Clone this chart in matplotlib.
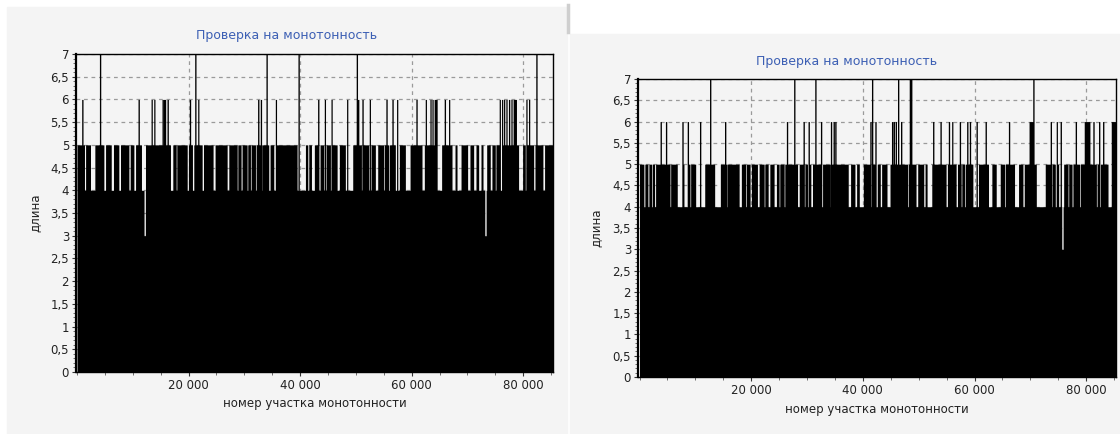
import numpy as np
import matplotlib
matplotlib.use("Agg")
import matplotlib.pyplot as plt
from matplotlib.patches import Rectangle
from matplotlib.lines import Line2D
from matplotlib.ticker import FuncFormatter, MultipleLocator

# ---------------- data ----------------
title = "Проверка на монотонность"
xlabel = "номер участка монотонности"
ylabel = "длина"
x_major = [20000, 40000, 60000, 80000]

base_len = 4  # most sections have length 4

# left chart: intervals where the length is 5
left_seg5 = [(0, 1250), (1613, 2330), (3285, 4719), (5197, 6033), (6630, 7407),
             (7885, 9199), (9617, 10095), (10573, 11468), (12364, 16665),
             (17262, 17680), (17979, 19652), (20070, 20608), (21024, 22339),
             (22757, 24310), (24848, 26819), (27297, 28014), (28135, 28613),
             (28911, 29329), (29688, 30405), (30703, 31002), (31300, 31898),
             (32196, 32794), (33212, 34287), (34705, 35183), (35660, 39364),
             (41036, 41275), (41634, 41932), (42649, 43067), (43665, 44142),
             (44740, 45337), (45636, 46532), (47129, 48025), (49518, 50115),
             (50534, 50892), (51310, 52206), (52803, 53401), (53998, 54894),
             (55192, 55790), (56089, 56985), (57882, 58778), (59793, 61764),
             (62362, 64452), (65468, 67140), (67857, 68036), (68932, 69947),
             (70545, 71023), (71620, 71918), (72516, 72695), (73531, 74009),
             (74487, 74905), (75204, 75801), (76399, 79086), (79982, 80281),
             (80580, 81774), (82192, 83446), (83924, 85358)]
left_len6 = [956, 11050, 13380, 13860, 15350, 15600, 15770, 16250, 20250, 21740,
             32495, 32973, 35660, 43246, 44440, 45640, 48440, 50410, 51190,
             52500, 55490, 56570, 57400, 60870, 62540, 63380, 63740, 64150,
             64300, 64450, 65950, 66720, 75800, 76220, 76580, 77000, 77470,
             77900, 78300, 78500, 78670, 80580, 81060]
left_len7 = [4122, 21204, 33988, 39722, 50175, 82370]
left_len3 = [12126, 73230]

# right chart
right_seg5 = [(0, 688), (1047, 1406), (1764, 2063), (2362, 2602), (2960, 3678),
              (3977, 5352), (5651, 6070), (6249, 6668), (7685, 7864), (8641, 8940),
              (9239, 9957), (11751, 13366), (14562, 15518), (15758, 17731),
              (18329, 18927), (19226, 19704), (20123, 21020), (21498, 22216),
              (22515, 22934), (23412, 24010), (24608, 24907), (25206, 25804),
              (26103, 27598), (27897, 28196), (28674, 29392), (29691, 29990),
              (30289, 30588), (31066, 32382), (32860, 34056), (34355, 37286),
              (37884, 38482), (38960, 39259), (40156, 41173), (41651, 42249),
              (42668, 43026), (43445, 44222), (44940, 47930), (48229, 49425),
              (49903, 50800), (51219, 51398), (52415, 54807), (55226, 56601),
              (57020, 57498), (57797, 58096), (58395, 58993), (59292, 59591),
              (60787, 62402), (63179, 63777), (64674, 65272), (65571, 65990),
              (66348, 67066), (67963, 68561), (68980, 70953), (72747, 73644),
              (73943, 74362), (74720, 74960), (76036, 76634), (76933, 77352),
              (77710, 77950), (78308, 78727), (79026, 81717), (82016, 82315),
              (82614, 83810), (84707, 85305)]
right_len6 = [3798, 4754, 7685, 8641, 10854, 15339, 26402, 29392, 30289, 32502,
              34296, 34774, 35073, 41352, 42249, 45239, 45538, 45897, 46854,
              52594, 53910, 55405, 56000, 57378, 58694, 59172, 60368, 61983,
              66169, 69877, 70100, 70300, 73644, 74720, 75438, 78129, 79744,
              79950, 80150, 80350, 80521, 81298, 82315, 83033, 84588, 84800,
              85000, 85200]
right_len7 = [12648, 27718, 31485, 41651, 46315, 48408, 48530, 48650, 70534]
right_len3 = [75737]

# ---------------- helpers ----------------
def build(seg5, len6, len7, len3, xmax, step=20, half=120, grow=90):
    x = np.arange(0, xmax, step, dtype=float)
    h = np.full(x.shape, float(base_len))
    for a, b in seg5:
        h[(x >= a - grow) & (x < b + grow)] = 5
    for p in len3:
        h[np.abs(x - p) < half] = 3
    for p in len6:
        m = np.abs(x - p) < half
        h[m] = np.maximum(h[m], 6)
    for p in len7:
        m = np.abs(x - p) < half
        h[m] = 7
    return x, h

xfmt = FuncFormatter(lambda v, pos: f"{int(round(v)):,}".replace(",", " "))
yfmt = FuncFormatter(lambda v, pos: f"{v:g}".replace(".", ","))

BG = "#f4f4f4"
TXT = "#222222"
fig = plt.figure(figsize=(11.2, 4.34), dpi=100)
fig.patch.set_facecolor("white")
W, H = 1120.0, 434.0
fig.patches.append(Rectangle((7 / W, 0), (567 - 7) / W, (434 - 7) / H,
                             transform=fig.transFigure, color=BG, zorder=-10))
fig.patches.append(Rectangle((570 / W, 0), (1120 - 570) / W, (434 - 34) / H,
                             transform=fig.transFigure, color=BG, zorder=-10))
fig.lines.append(Line2D([567.5 / W, 567.5 / W], [1 - 5 / H, 1 - 32 / H],
                        transform=fig.transFigure, color="#cfcfcf", lw=2.5))

panels = [
    dict(rect=[76 / W, 1 - 372 / H, (553 - 76) / W, (372 - 54) / H],
         xlim=(-180, 85350), data=(left_seg5, left_len6, left_len7, left_len3),
         title_xy=(287 / W, 1 - 35 / H), ylab_x=35 / W),
    dict(rect=[638 / W, 1 - 377 / H, (1116 - 638) / W, (377 - 79) / H],
         xlim=(-270, 85330), data=(right_seg5, right_len6, right_len7, right_len3),
         title_xy=(847 / W, 1 - 61 / H), ylab_x=596 / W),
]

for p in panels:
    ax = fig.add_axes(p["rect"])
    ax.set_facecolor(BG)
    x, h = build(*p["data"], xmax=p["xlim"][1] + 100)
    ax.fill_between(x, 0, h, step="post", color="black", linewidth=0, zorder=2)
    ax.set_xlim(*p["xlim"])
    ax.set_ylim(0, 7)
    ax.set_xticks(x_major)
    ax.xaxis.set_minor_locator(MultipleLocator(5000))
    ax.yaxis.set_major_locator(MultipleLocator(0.5))
    ax.yaxis.set_minor_locator(MultipleLocator(0.1))
    ax.xaxis.set_major_formatter(xfmt)
    ax.yaxis.set_major_formatter(yfmt)
    ax.grid(True, which="major", color="#9a9a9a", linestyle=(0, (3, 3)), linewidth=0.9, zorder=1)
    ax.set_axisbelow(True)
    for s in ax.spines.values():
        s.set_color("black")
        s.set_linewidth(1.0)
        s.set_zorder(3)
    ax.spines["left"].set_linewidth(1.6)
    ax.tick_params(axis="both", which="major", length=3, width=0.8, color="#333333",
                   labelsize=8.5, labelcolor=TXT, pad=2)
    ax.tick_params(axis="both", which="minor", length=2, width=0.6, color="#555555")
    ax.set_xlabel(xlabel, fontsize=8.5, color=TXT, labelpad=4)
    fig.text(p["title_xy"][0], p["title_xy"][1], title, ha="center", va="center",
             fontsize=9, color="#3c5fb4")
    yc = p["rect"][1] + p["rect"][3] / 2
    fig.text(p["ylab_x"], yc, ylabel, rotation=90, ha="center", va="center",
             fontsize=8.5, color=TXT)

fig.savefig("out.png", dpi=100, facecolor=fig.get_facecolor())
